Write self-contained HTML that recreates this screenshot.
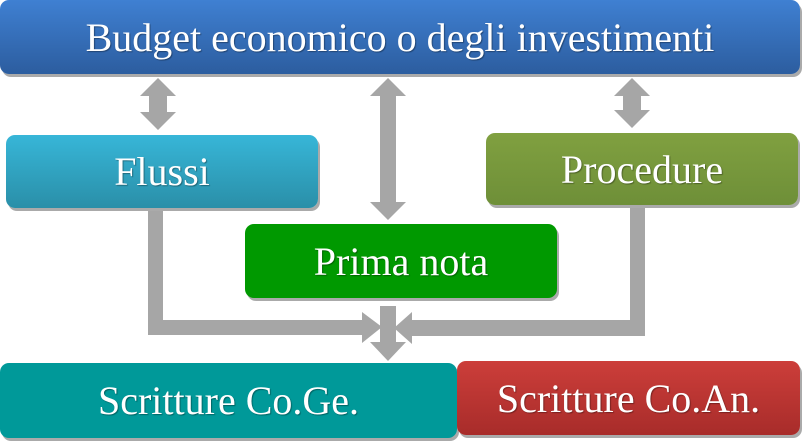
<!DOCTYPE html>
<html><head><style>
body{margin:0;width:802px;height:445px;background:#fff;position:relative;overflow:hidden;font-family:"Liberation Serif",serif}
.b{position:absolute;color:#fff;display:flex;align-items:center;justify-content:center;border-radius:9px;box-shadow:2px 3px 0 #aaa;text-shadow:1px 1px 1px rgba(0,0,0,.35)}
svg{position:absolute;left:0;top:0}
</style></head><body>
<svg width="802" height="445">
<g fill="#a6a6a6">
<polygon points="158,78 176,96 167,96 167,112 176,112 158,130 140,112 149,112 149,96 140,96"/>
<polygon points="388,78 406,96 396,96 396,202 406,202 388,220 370,202 380,202 380,96 370,96"/>
<polygon points="632,78 650,96 641,96 641,110 650,110 632,128 614,110 623,110 623,96 614,96"/>
<polygon points="148,208 163,208 163,320 362,320 362,312 382,327 362,343 362,335 148,335"/>
<polygon points="630,205 645,205 645,336 412,336 412,344 394,328 412,312 412,320 630,320"/>
<polygon points="380,306 396,306 396,342 406,342 388,361 370,342 380,342"/>
</g>
</svg>
<div class="b" style="left:0;top:0;width:800px;height:74px;background:linear-gradient(#3f80d2,#2c5d9f);font-size:40px">Budget economico o degli investimenti</div>
<div class="b" style="left:6px;top:135px;width:312px;height:73px;background:linear-gradient(#37b6d8,#2a8fa8);font-size:40px">Flussi</div>
<div class="b" style="left:486px;top:133px;width:312px;height:72px;background:linear-gradient(#80a040,#6e8f38);font-size:40px">Procedure</div>
<div class="b" style="left:245px;top:224px;width:312px;height:74px;background:#009900;font-size:40px">Prima nota</div>
<div class="b" style="left:0;top:363px;width:457px;height:75px;background:#009999;font-size:40px">Scritture Co.Ge.</div>
<div class="b" style="left:457px;top:361px;width:343px;height:74px;background:linear-gradient(#cc3e3a,#a82c2a);font-size:40px">Scritture Co.An.</div>
</body></html>
